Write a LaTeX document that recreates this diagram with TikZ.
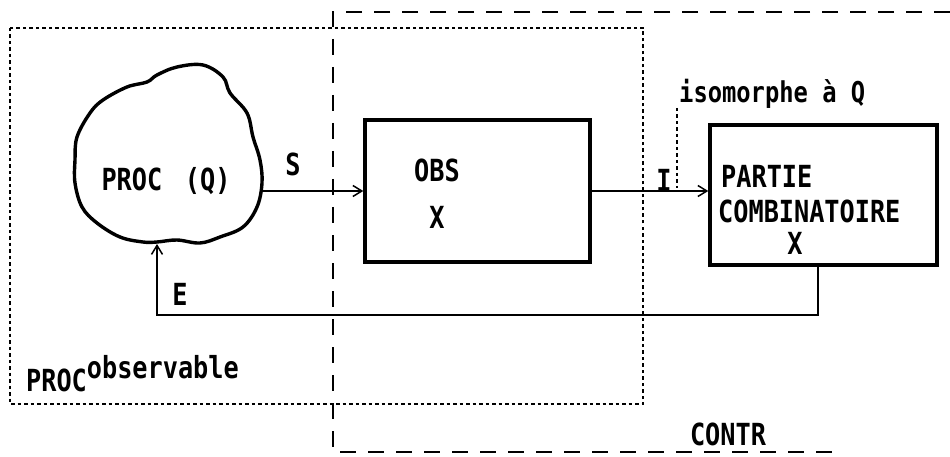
\documentclass[tikz,border=0pt]{standalone}
\usepackage{fontspec}
\usepackage{graphicx}
\setmainfont{DejaVu Sans Mono}
\usetikzlibrary{arrows.meta}
\newcommand{\tall}[1]{\scalebox{0.97}[1.17]{#1}}
\begin{document}
\begin{tikzpicture}[x=1pt,y=-1pt,
  box/.style={draw, line width=3.4pt, inner sep=0pt},
  arr/.style={line width=1.5pt, -{Straight Barb[length=9pt,width=11pt,line width=1.5pt]}},
  dotbox/.style={line width=2.8pt, dash pattern=on 3.5pt off 3pt},
  dashbox/.style={line width=2.6pt, dash pattern=on 16pt off 12pt},
  lbl/.style={font=\fontsize{26}{28}\selectfont\bfseries, inner sep=0pt},
  slbl/.style={font=\fontsize{24.5}{26}\selectfont\bfseries, inner sep=0pt}]
\useasboundingbox (0,0) rectangle (950,457);
% dotted PROC observable box
\draw[dotbox] (10,28) rectangle (643,404);
% dashed CONTR box (open on the right)
\draw[dashbox] (950,12) -- (333,12) -- (333,452) -- (832,452);
% cloud
\draw[line width=3.4pt] plot[smooth cycle, tension=0.6] coordinates {
 (157,75) (177,67) (203,65) (223,77) (230,93) (247,113) (253,137) (260,160)
 (262,183) (257,207) (243,227) (220,237) (200,243) (177,240) (157,242)
 (143,242) (120,237) (97,223) (82,207) (75,183) (75,160) (77,137) (90,113)
 (103,100) (127,87) (147,82)};
\coordinate (cE) at (262,191);
\coordinate (cS) at (157,244);
\node[lbl] (proc) at (166,181) {\tall{PROC\hspace{0.9em}(Q)}};
% boxes
\node[box, minimum width=225pt, minimum height=142pt] (obs) at (477.5,191) {};
\node[box, minimum width=227pt, minimum height=140pt] (partie) at (823.5,195) {};
\node[lbl] (obst) at (437,170) {\tall{OBS}};
\node[lbl] (obsx) at (437,217) {\tall{X}};
\node[lbl, anchor=west] (pt1) at (721,176) {\tall{PARTIE}};
\node[lbl, anchor=west] (pt2) at (718,211) {\tall{COMBINATOIRE}};
\node[lbl] (ptx) at (795,243) {\tall{X}};
% connectors
\draw[arr] (cE) -- (obs.west |- cE);
\node[lbl] (s) at (293,164) {\tall{S}};
\draw[arr] (obs.east) -- (obs.east -| partie.west);
\node[lbl] (i) at (664,180) {\tall{I}};
\coordinate (iso1) at (677,108);
\coordinate (iso2) at (677,188);
\draw[line width=2.6pt, dash pattern=on 3.5pt off 3pt] (iso1) -- (iso2);
\node[slbl, anchor=west] (iso) at (679,94) {\tall{isomorphe à Q}};
\coordinate (fb1) at (818,315);
\coordinate (fb2) at (157,315);
\draw[arr] (partie.south -| fb1) -- (fb1) -- (fb2) -- (cS);
\node[lbl] (e) at (180,294) {\tall{E}};
% labels
\node[lbl, anchor=west] (pobs) at (26,374) {\tall{PROC\raisebox{11pt}{observable}}};
\node[lbl] (contr) at (728,434) {\tall{CONTR}};
\end{tikzpicture}
\end{document}
